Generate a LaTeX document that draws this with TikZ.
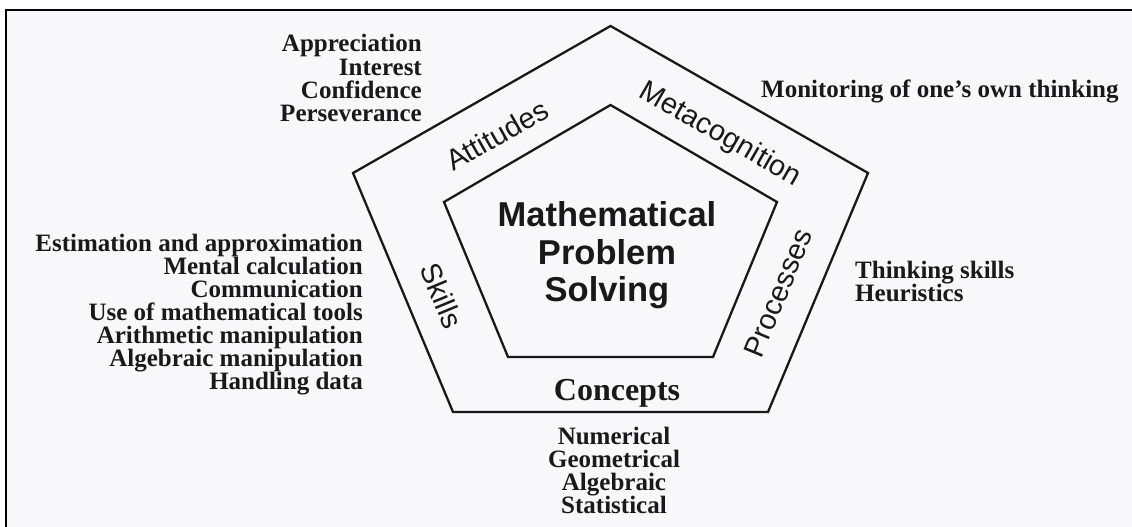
\documentclass[tikz,border=0pt]{standalone}
\usepackage{fontspec}
\setmainfont{Liberation Serif}
\newfontfamily\sansf{Liberation Sans}
\definecolor{paper}{RGB}{248,248,250}
\definecolor{ink}{RGB}{25,25,25}
\begin{document}
\begin{tikzpicture}[x=1pt,y=-1pt,
  item/.style={font=\bfseries\fontsize{25}{25}\selectfont, text=ink, inner sep=0pt},
  bandlabel/.style={font=\sansf\fontsize{29}{29}\selectfont, text=ink, inner sep=0pt},
  core/.style={font=\sansf\bfseries\fontsize{34.5}{34.5}\selectfont, text=ink, inner sep=0pt},
  concept/.style={font=\bfseries\fontsize{32}{32}\selectfont, text=ink, inner sep=0pt},
  pentaline/.style={draw=ink, line width=2.3pt, line join=miter},
  frameline/.style={draw=black, line width=2pt}]
\useasboundingbox (0,0) rectangle (1132,527);
\fill[white] (0,0) rectangle (1132,527);
\fill[paper] (6,10) rectangle (1132,527);
\draw[frameline] (6,527) -- (6,10) -- (1132,10);
% pentagons
\coordinate (o1) at (610.5,26);
\coordinate (o2) at (868,173);
\coordinate (o3) at (768,412);
\coordinate (o4) at (453,412);
\coordinate (o5) at (353,173);
\coordinate (i1) at (610.5,105);
\coordinate (i2) at (777,202);
\coordinate (i3) at (713,357);
\coordinate (i4) at (508,357);
\coordinate (i5) at (444,202);
\draw[pentaline] (o1) -- (o2) -- (o3) -- (o4) -- (o5) -- cycle;
\draw[pentaline] (i1) -- (i2) -- (i3) -- (i4) -- (i5) -- cycle;
% band labels
\node[bandlabel, rotate=29.6] (att) at (497,135) {Attitudes};
\node[bandlabel, rotate=-29.8] (meta) at (720,135) {Metacognition};
\node[bandlabel, rotate=-67.5] (skills) at (442,296) {Skills};
\node[bandlabel, rotate=67.5] (proc) at (778,293) {Processes};
\node[concept, anchor=base] (conc) at (617,400) {Concepts};
% core
\node[core, anchor=base] (c1) at (607,226) {Mathematical};
\node[core, anchor=base] (c2) at (607,264) {Problem};
\node[core, anchor=base] (c3) at (607,301) {Solving};
% attitudes list
\foreach \t [count=\k from 0] in {Appreciation,Interest,Confidence,Perseverance}
  \node[item, anchor=base east] (a\k) at (422,52+23.2*\k) {\t};
% skills list
\foreach \t [count=\k from 0] in {Estimation and approximation,Mental calculation,Communication,Use of mathematical tools,Arithmetic manipulation,Algebraic manipulation,Handling data}
  \node[item, anchor=base east] (s\k) at (363,251+23*\k) {\t};
% metacognition
\node[item, anchor=base west] (m0) at (761,97) {Monitoring of one’s own thinking};
% processes
\node[item, anchor=base west] (p0) at (855,278) {Thinking skills};
\node[item, anchor=base west] (p1) at (855,301) {Heuristics};
% concepts list
\foreach \t [count=\k from 0] in {Numerical,Geometrical,Algebraic,Statistical}
  \node[item, anchor=base] (n\k) at (614,444+23.3*\k) {\t};
\end{tikzpicture}
\end{document}
